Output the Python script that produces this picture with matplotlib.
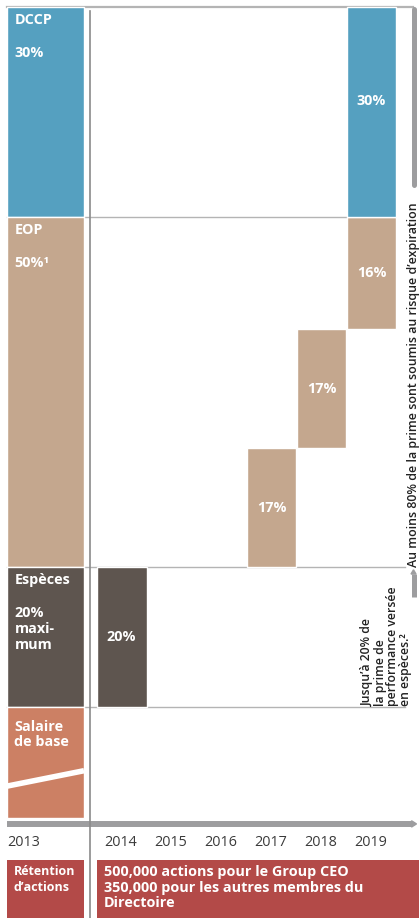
import numpy as np
import matplotlib.pyplot as plt
from matplotlib.patches import Polygon

plt.rcParams['font.family'] = ['Open Sans', 'DejaVu Sans']

# parts of the variable pay (percent of the bonus)
parts = ['DCCP', 'EOP', 'Espèces']
part_pct = [30, 50, 20]
part_labels = ['DCCP\n\n30%', 'EOP\n\n50%¹', 'Espèces\n\n20%\nmaxi-\nmum']
base_label = 'Salaire\nde base'

# deferred payouts by year
years = [2013, 2014, 2015, 2016, 2017, 2018, 2019]
pay_year = [2014, 2017, 2018, 2019, 2019]
pay_part = ['Espèces', 'EOP', 'EOP', 'EOP', 'DCCP']
pay_pct = [20, 17, 17, 16, 30]

ret_title = 'Rétention\nd\u2019actions'
ret_text = '500,000 actions pour le Group CEO\n350,000 pour les autres membres du\nDirectoire'
note_top = 'Au moins 80% de la prime sont soumis au risque d\u2019expiration'
note_cash = 'Jusqu\u2019à 20% de\nla prime de\nperformance versée\nen espèces.\u00b2'

colors = {'DCCP': '#55a0c0', 'EOP': '#c4a78e', 'Espèces': '#5e554f'}
base_col = '#cc8064'
red = '#b34a48'
line_gray = '#b4b4b4'
arrow_gray = '#9d9d9f'
fs = 10.4

fig = plt.figure(figsize=(4.19, 9.18), dpi=100)
ax = fig.add_axes([0, 0, 1, 1])
ax.set_xlim(2011.57, 2019.95)
ax.set_ylim(130.14, -1.0)
ax.axis('off')

# top of each part in the stack (percent, from top)
tops = dict(zip(parts, np.concatenate([[0], np.cumsum(part_pct)[:-1]])))
bottoms = {p: tops[p] + v for p, v in zip(parts, part_pct)}

# left column (2013)
lx, lw = 2012.48, 1.54
for p, v, lab in zip(parts, part_pct, part_labels):
    ax.bar(lx, v, bottom=tops[p], width=lw, color=colors[p], edgecolor='white', linewidth=1.0, zorder=3)
    ax.text(2011.86, tops[p] + 0.9, lab, color='white', fontsize=fs, fontweight='bold',
            va='top', ha='left', linespacing=1.2, zorder=5)
base_h = 15.8
ax.bar(lx, base_h, bottom=100, width=lw, color=base_col, edgecolor='white', linewidth=1.0, zorder=3)
ax.text(2011.86, 101.8, base_label, color='white', fontsize=fs, fontweight='bold',
        va='top', ha='left', linespacing=1.15, zorder=5)
ax.plot([lx - lw / 2, lx + lw / 2], [111.3, 109.1], color='white', lw=4.0, zorder=4,
        solid_capstyle='butt')

# deferred bars: EOP stacks upward from the bottom of the EOP block
eop_level = bottoms['EOP']
for yr, p, v in zip(pay_year, pay_part, pay_pct):
    if p == 'EOP':
        b = eop_level - v
        eop_level = b
    else:
        b = tops[p]
    ax.bar(yr, v, bottom=b, width=1.0, color=colors[p], edgecolor='white', linewidth=1.0, zorder=3)
    ty = b + v / 2 if p != 'DCCP' else b + v / 2 - 1.6
    ax.text(yr, ty, f'{v}%', color='white', fontsize=fs, fontweight='bold',
            ha='center', va='center', zorder=5)

# separator lines
ax.plot([2011.71, 2019.83], [0, 0], color=line_gray, lw=1.6, zorder=2)
ax.plot([2011.71, 2018.5], [bottoms['DCCP'], bottoms['DCCP']], color=line_gray, lw=1.0, zorder=2)
ax.plot([2011.71, 2019.67], [bottoms['EOP'], bottoms['EOP']], color=line_gray, lw=1.0, zorder=2)
ax.plot([2011.71, 2019.67], [bottoms['Espèces'], bottoms['Espèces']], color=line_gray, lw=1.0, zorder=2)

# vertical divider
ax.plot([2013.37, 2013.37], [0.6, 131], color='#8a8a8a', lw=1.2, zorder=6)

# time axis arrow
ax.plot([2011.71, 2019.8], [116.7, 116.7], color=arrow_gray, lw=4.3, solid_capstyle='butt', zorder=3)
ax.add_patch(Polygon([[2019.8, 116.25], [2019.9, 116.7], [2019.8, 117.15]], closed=True,
                     color=arrow_gray, zorder=3))

# year labels
ax.text(2011.71, 119.4, str(years[0]), fontsize=fs, color='#3a3a3a', ha='left', va='center')
for yr in years[1:]:
    ax.text(yr - 0.02, 119.4, str(yr), fontsize=fs, color='#3a3a3a', ha='center', va='center')

# right side notes
ax.plot([2019.84, 2019.84], [0.3, 25.4], color=arrow_gray, lw=3.6, zorder=3, solid_capstyle='round')
ax.text(2019.85, 53.9, note_top, rotation=90, fontsize=8.9, fontweight='semibold', color='#222222',
        ha='center', va='center')
ax.plot([2019.84, 2019.84], [81.0, 84.3], color=arrow_gray, lw=3.6, zorder=3, solid_capstyle='butt')
ax.add_patch(Polygon([[2019.79, 81.0], [2019.84, 80.4], [2019.89, 81.0]], closed=True,
                     color=arrow_gray, zorder=3))
ax.text(2019.30, 99.8, note_cash, rotation=90, fontsize=8.8, fontweight='semibold', color='#222222',
        ha='center', va='bottom', multialignment='left', linespacing=0.98)

# share retention row
ax.bar(lx, 10, bottom=121.9, width=lw, color=red, zorder=3)
ax.text(2011.84, 122.6, ret_title, color='white', fontsize=9.0, fontweight='bold',
        va='top', ha='left', linespacing=1.28, zorder=5)
ax.bar(2016.8, 10, bottom=121.9, width=6.6, color=red, zorder=3)
ax.text(2013.65, 122.6, ret_text, color='white', fontsize=fs, fontweight='bold',
        va='top', ha='left', linespacing=1.12, zorder=5)

fig.savefig('out.png', dpi=100)
